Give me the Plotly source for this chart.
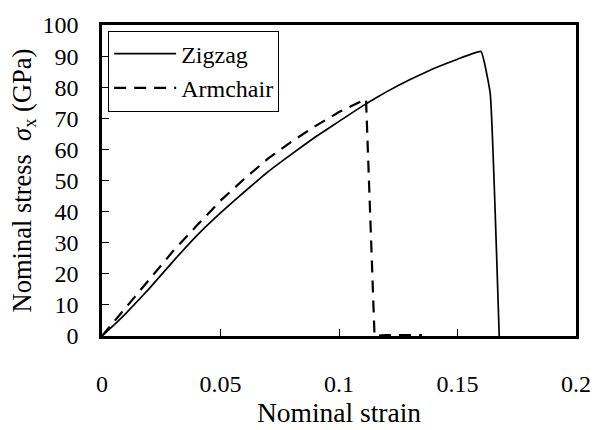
import plotly.graph_objects as go

zig_x = [0.0, 0.005, 0.01, 0.02, 0.03, 0.04, 0.05, 0.06, 0.07, 0.08, 0.09, 0.10, 0.11, 0.12, 0.13, 0.14, 0.15, 0.1599, 0.1638, 0.1676]
zig_y = [0.0, 3.5, 7.2, 15.3, 24.0, 32.3, 39.6, 46.3, 52.8, 58.5, 64.0, 69.0, 74.0, 78.5, 82.5, 86.0, 89.0, 91.5, 78.0, 0.0]

arm_x = [0.0, 0.005, 0.01, 0.02, 0.03, 0.04, 0.05, 0.06, 0.07, 0.08, 0.09, 0.10, 0.1114, 0.1150, 0.120, 0.135]
arm_y = [0.0, 4.6, 9.0, 18.3, 27.3, 35.5, 43.5, 50.5, 57.0, 62.5, 67.5, 72.0, 76.2, 0.0, 0.3, 0.3]

x_ticks = [0, 0.05, 0.1, 0.15, 0.2]
x_labels = ["0", "0.05", "0.1", "0.15", "0.2"]
y_ticks = list(range(0, 101, 10))

FONT = "Liberation Serif"

fig = go.Figure()
fig.add_trace(go.Scatter(x=zig_x, y=zig_y, mode="lines", name="Zigzag",
                         line=dict(color="black", width=1.7, shape="spline", smoothing=0.3)))
fig.add_trace(go.Scatter(x=arm_x, y=arm_y, mode="lines", name="Armchair",
                         line=dict(color="black", width=2.2, dash="12px,8px")))

fig.update_layout(
    width=603, height=430,
    margin=dict(l=102, r=26, t=21, b=88),
    paper_bgcolor="white", plot_bgcolor="white",
    font=dict(family=FONT, size=24, color="black"),
    showlegend=True,
    legend=dict(x=0.013, y=0.982, xanchor="left", yanchor="top",
                bordercolor="black", borderwidth=1, bgcolor="white",
                font=dict(family=FONT, size=24), tracegroupgap=0,
                itemwidth=62),
    xaxis=dict(range=[0, 0.2], tickvals=x_ticks, ticktext=x_labels,
               showgrid=False, zeroline=False,
               showline=True, linecolor="black", linewidth=2.5, mirror=True,
               ticks="inside", ticklen=7, tickwidth=1, tickcolor="black",
               ticklabelstandoff=24, tickfont=dict(family=FONT, size=24),
               title=dict(text="Nominal strain", standoff=2,
                          font=dict(family=FONT, size=27.5))),
    yaxis=dict(range=[0, 100], tickvals=y_ticks,
               showgrid=False, zeroline=False,
               showline=True, linecolor="black", linewidth=2.5, mirror=True,
               ticks="inside", ticklen=7, tickwidth=1, tickcolor="black",
               ticklabelstandoff=16, tickfont=dict(family=FONT, size=24),
               title=dict(text="Nominal stress  <i>σ</i><sub>x</sub> (GPa)", standoff=4,
                          font=dict(family=FONT, size=26.5))),
)

fig.write_html("out.html")
